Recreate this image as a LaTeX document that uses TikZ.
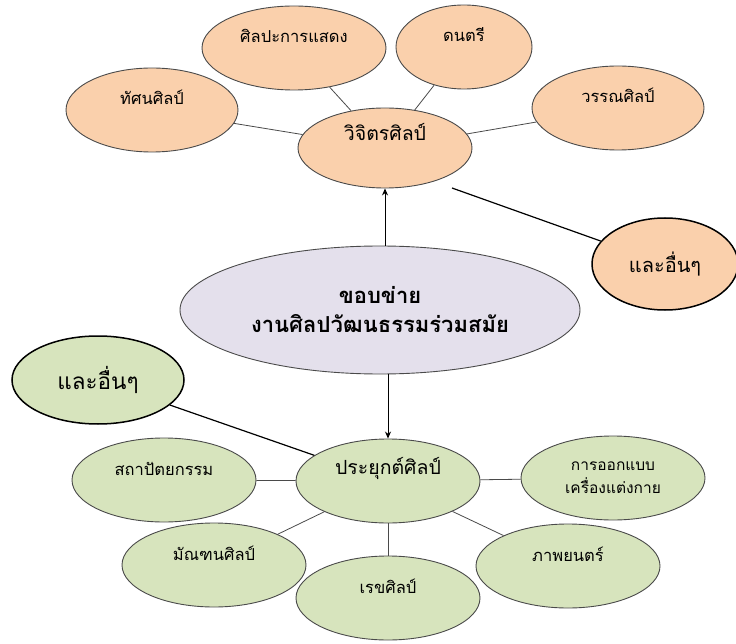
\documentclass[tikz,border=0pt]{standalone}
\usepackage{fontspec}
\newfontfamily\thaifont[Script=Thai]{Loma}
\usetikzlibrary{shapes.geometric,arrows.meta}
\definecolor{peach}{HTML}{FAD0AC}
\definecolor{olive}{HTML}{D7E4BD}
\definecolor{lav}{HTML}{E4E0EC}
\definecolor{edgegray}{HTML}{4A4A4A}
\tikzset{
  bub/.style={ellipse, draw=edgegray, line width=0.9pt, inner sep=0pt,
    minimum width=184pt, minimum height=84pt, font=\thaifont\fontsize{16.5}{20}\selectfont,
    text height=12pt, text depth=22pt},
  bigtxt/.style={font=\thaifont\fontsize{19.5}{23}\selectfont, text height=15pt, text depth=29pt},
  pch/.style={bub, fill=peach},
  grn/.style={bub, fill=olive},
  other/.style={ellipse, draw=black, line width=1.5pt, inner sep=0pt,
    font=\thaifont\fontsize{20}{24}\selectfont},
  link/.style={draw=edgegray, line width=0.8pt},
  arr/.style={draw=black, line width=0.9pt, -{Stealth[length=7pt,width=6pt]}},
}
\begin{document}
\begin{tikzpicture}[x=1pt,y=-1pt]
\useasboundingbox (0,0) rectangle (736,644);
% top group
\node[pch, minimum width=172pt] (tas) at (152,110) {ทัศนศิลป์};
\node[pch] (perf) at (294,48) {ศิลปะการแสดง};
\node[pch, minimum width=136pt] (music) at (464,47) {ดนตรี};
\node[pch, minimum width=172pt] (lit) at (618,108) {วรรณศิลป์};
\node[pch, bigtxt, minimum width=174pt, minimum height=80pt] (fine) at (385,148) {วิจิตรศิลป์};
\node[other, fill=peach, minimum width=146pt, minimum height=92pt] (oth1) at (665,264) {และอื่นๆ};
% centre
\node[ellipse, draw=edgegray, line width=0.9pt, fill=lav, minimum width=400pt, minimum height=128pt,
  inner sep=0pt, align=center, font=\thaifont\bfseries\fontsize{22}{29}\selectfont] (net) at (380,310)
  {ขอบข่าย\\งานศิลปวัฒนธรรมร่วมสมัย};
% bottom group
\node[grn, bigtxt] (app) at (388,481) {ประยุกต์ศิลป์};
\node[other, fill=olive, minimum width=172pt, minimum height=88pt, font=\thaifont\fontsize{22.5}{26}\selectfont] (oth2) at (98,380) {และอื่นๆ};
\node[grn] (arch) at (164,480) {สถาปัตยกรรม};
\node[grn] (deco) at (214,565) {มัณฑนศิลป์};
\node[grn] (graph) at (388,598) {เรขศิลป์};
\node[grn, align=center, text height=, text depth=, font=\thaifont\fontsize{15.5}{23}\selectfont] (cost) at (613,478) {การออกแบบ\\เครื่องแต่งกาย};
\node[grn] (film) at (568,566) {ภาพยนตร์};
% links
\draw[link] (fine) -- (tas);
\draw[link] (fine) -- (perf);
\draw[link] (fine) -- (music);
\draw[link] (fine) -- (lit);
\coordinate (c1) at (452,188);
\draw[black, line width=1.2pt] (c1) -- (oth1);
\draw[arr] (net.north -| fine.south) -- (fine.south);
\draw[arr] (net.south -| app.north) -- (app.north);
\draw[black, line width=1.2pt] (oth2) -- (app);
\draw[link] (app) -- (arch);
\draw[link] (app) -- (deco);
\draw[link] (app) -- (graph);
\draw[link] (app) -- (cost);
\draw[link] (app) -- (film);
\end{tikzpicture}
\end{document}
